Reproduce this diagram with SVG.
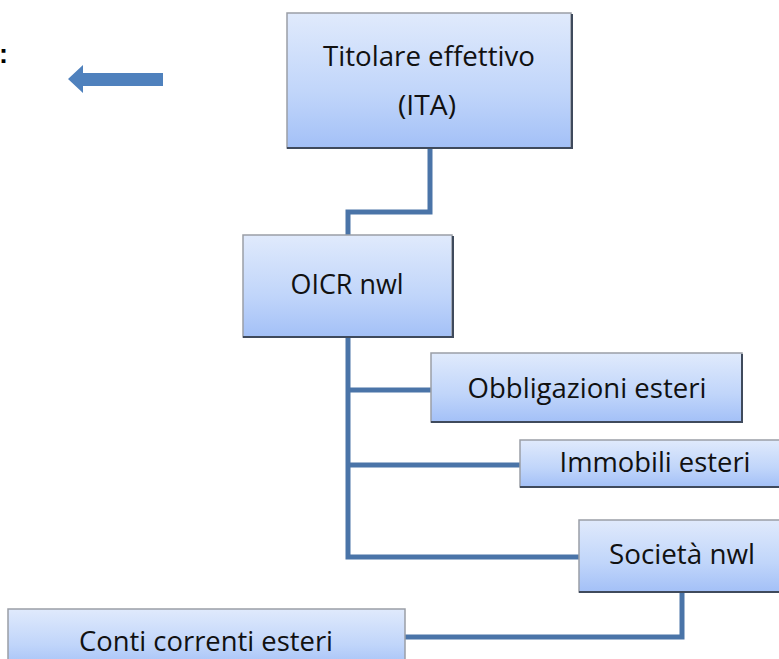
<svg xmlns="http://www.w3.org/2000/svg" width="779" height="659" viewBox="0 0 779 659">
<defs>
<linearGradient id="g" x1="0" y1="0" x2="0" y2="1">
<stop offset="0" stop-color="#E0EAFC"/>
<stop offset="0.6" stop-color="#C0D5FA"/>
<stop offset="1" stop-color="#A3C0F7"/>
</linearGradient>
</defs>
<style>
.box{fill:url(#g);stroke:#9A9EA6;stroke-width:1.5}
.sh{fill:none;stroke:#3F4A5C;stroke-width:2}
.t{font-family:"Open Sans","Liberation Sans",sans-serif;font-size:27px;fill:#111;text-anchor:middle}
.c{fill:none;stroke:#4A74A8;stroke-width:5;stroke-linejoin:miter}
</style>
<rect width="779" height="659" fill="#fff"/>
<text x="-1" y="63" style="font-family:'Liberation Sans',sans-serif;font-size:27px;font-weight:bold;fill:#000">:</text>
<polygon points="68,79 83,65 83,73 163,73 163,86 83,86 83,93" fill="#4F81BD"/>
<g id="connectors">
<polyline class="c" points="430,148 430,212 348,212 348,236"/>
<polyline class="c" points="348,337 348,557 579,557"/>
<line class="c" x1="348" y1="390" x2="431" y2="390"/>
<line class="c" x1="348" y1="465" x2="520" y2="465"/>
<polyline class="c" points="682,592 682,637 405,637"/>
</g>
<g id="titolare">
<rect class="box" x="287" y="13" width="284" height="135"/>
<polyline class="sh" points="572,14 572,148 287,148"/>
<text class="t" x="429" y="66" textLength="212" lengthAdjust="spacingAndGlyphs">Titolare effettivo</text>
<text class="t" x="427" y="115" textLength="58" lengthAdjust="spacingAndGlyphs">(ITA)</text>
</g>
<g id="oicr">
<rect class="box" x="243" y="235" width="209" height="102"/>
<polyline class="sh" points="453,236 453,337 243,337"/>
<text class="t" x="347" y="294" textLength="113" lengthAdjust="spacingAndGlyphs">OICR nwl</text>
</g>
<g id="obbligazioni">
<rect class="box" x="431" y="353" width="311" height="69"/>
<polyline class="sh" points="742,354 742,422 431,422"/>
<text class="t" x="587" y="398" textLength="239" lengthAdjust="spacingAndGlyphs">Obbligazioni esteri</text>
</g>
<g id="immobili">
<rect class="box" x="520" y="440" width="265" height="47"/>
<polyline class="sh" points="520,487 785,487"/>
<text class="t" x="655" y="472" textLength="191" lengthAdjust="spacingAndGlyphs">Immobili esteri</text>
</g>
<g id="societa">
<rect class="box" x="579" y="520" width="206" height="72"/>
<polyline class="sh" points="579,592 785,592"/>
<text class="t" x="682" y="564" textLength="146" lengthAdjust="spacingAndGlyphs">Società nwl</text>
</g>
<g id="conti">
<rect class="box" x="8" y="609" width="397" height="60"/>
<text class="t" x="206" y="651" textLength="254" lengthAdjust="spacingAndGlyphs">Conti correnti esteri</text>
</g>
</svg>
